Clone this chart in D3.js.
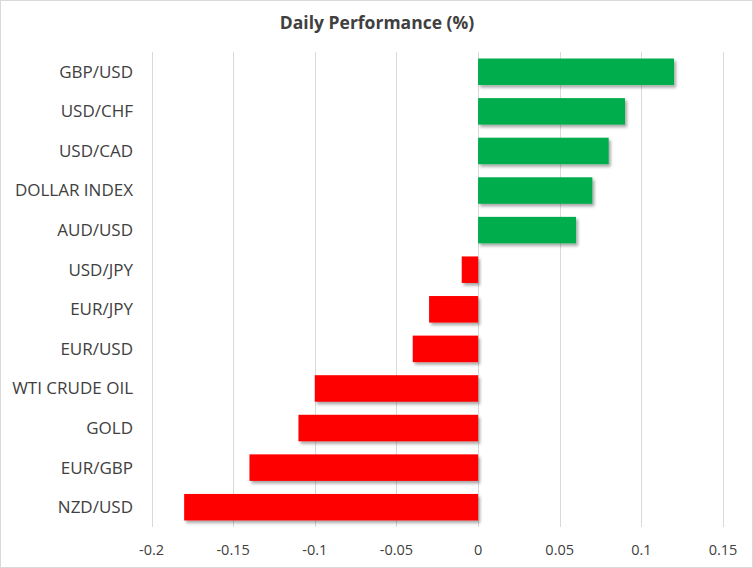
<!DOCTYPE html>
<html><head><meta charset="utf-8">
<script src="https://cdn.jsdelivr.net/npm/d3@7/dist/d3.min.js"></script>
<style>body{margin:0;background:#fff;} text{font-family:"Open Sans",sans-serif;}</style>
</head><body>
<svg id="c" width="753" height="568"></svg>
<script>
const categories = ["GBP/USD","USD/CHF","USD/CAD","DOLLAR INDEX","AUD/USD","USD/JPY","EUR/JPY","EUR/USD","WTI CRUDE OIL","GOLD","EUR/GBP","NZD/USD"];
const values = [0.12,0.09,0.08,0.07,0.06,-0.01,-0.03,-0.04,-0.1,-0.11,-0.14,-0.18];
const tickValues = [-0.2,-0.15,-0.1,-0.05,0,0.05,0.1,0.15];
const tickLabels = ["-0.2","-0.15","-0.1","-0.05","0","0.05","0.1","0.15"];
const title = "Daily Performance (%)";

const svg = d3.select("#c");
const W=753,H=568;
svg.append("rect").attr("x",0.5).attr("y",0.5).attr("width",W-1).attr("height",H-1).attr("fill","#fff").attr("stroke","#d9d9d9");
const defs=svg.append("defs");
const f=defs.append("filter").attr("id","sh").attr("x","-10%").attr("y","-20%").attr("width","130%").attr("height","160%");
f.append("feDropShadow").attr("dx",2).attr("dy",2.5).attr("stdDeviation",1.5).attr("flood-color","#000").attr("flood-opacity",0.35);

const x=d3.scaleLinear().domain([-0.2,0.15]).range([151.5,723]);
const y=d3.scaleBand().domain(categories).range([52,527]).paddingInner(0.33).paddingOuter(0.165);

svg.append("g").selectAll("line").data(tickValues).join("line")
 .attr("x1",d=>Math.round(x(d))+0.5).attr("x2",d=>Math.round(x(d))+0.5).attr("y1",52).attr("y2",527)
 .attr("stroke","#d9d9d9").attr("stroke-width",1);

svg.append("g").selectAll("rect").data(values).join("rect")
 .attr("x",(d)=>x(Math.min(0,d))).attr("width",d=>Math.abs(x(d)-x(0)))
 .attr("y",(d,i)=>y(categories[i])).attr("height",y.bandwidth())
 .attr("fill",d=>d>=0?"#00ad4e":"#ff0000").attr("filter","url(#sh)");

svg.append("g").selectAll("text").data(categories).join("text")
 .attr("x",133).attr("y",d=>y(d)+y.bandwidth()/2).attr("dy","0.35em").attr("text-anchor","end")
 .attr("font-size",17).attr("fill","#404040").text(d=>d);

svg.append("g").selectAll("text").data(tickValues).join("text")
 .attr("x",d=>x(d)).attr("y",550).attr("dy","0.35em").attr("text-anchor","middle")
 .attr("font-size",14.5).attr("fill","#404040").text((d,i)=>tickLabels[i]);

svg.append("text").attr("x",377).attr("y",23).attr("dy","0.35em").attr("text-anchor","middle")
 .attr("font-size",17.5).attr("font-weight","bold").attr("fill","#404040").text(title);
</script>
</body></html>
